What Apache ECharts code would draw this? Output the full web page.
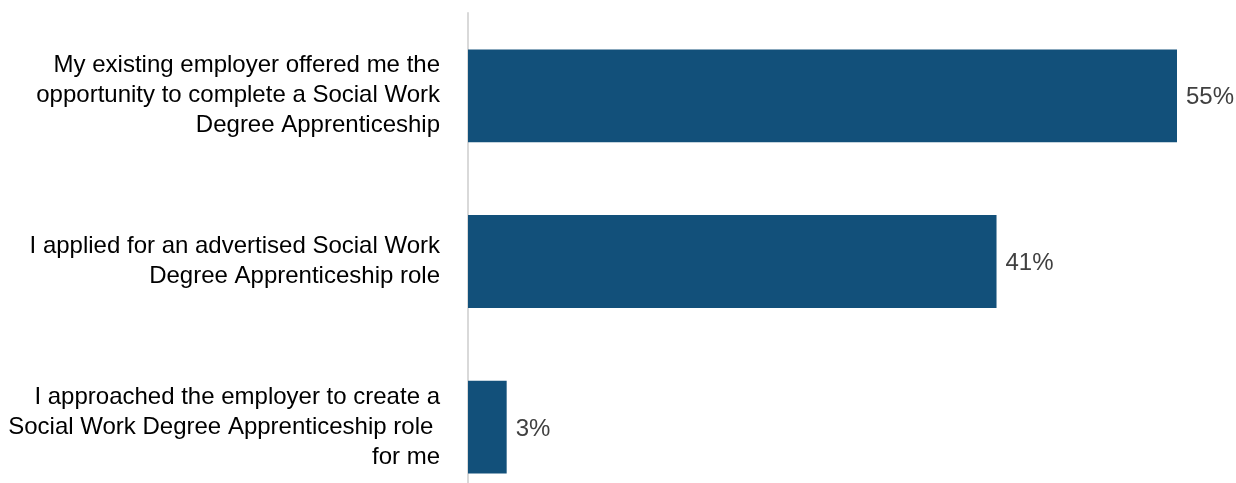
<!DOCTYPE html>
<html>
<head>
<meta charset="utf-8">
<script src="https://cdn.jsdelivr.net/npm/echarts@6/dist/echarts.min.js"></script>
<style>
  html, body { margin: 0; padding: 0; background: #ffffff; overflow: hidden; height: 483px; }
  /* plot area runs slightly below the visible page edge */
  #chart { width: 1236px; height: 510px; }
</style>
</head>
<body>
<div id="chart"></div>
<script>
// Ways respondents came to their Social Work Degree Apprenticeship
const categories = [
  'My existing employer offered me the\nopportunity to complete a Social Work\nDegree Apprenticeship',
  'I applied for an advertised Social Work\nDegree Apprenticeship role',
  'I approached the employer to create a\nSocial Work Degree Apprenticeship role \nfor me'
];
const shares = [55, 41, 3];

const chart = echarts.init(document.getElementById('chart'), null, { renderer: 'canvas' });
chart.setOption({
  animation: false,
  grid: { left: 468, width: 709, top: 13, bottom: 0, containLabel: false },
  xAxis: {
    type: 'value', min: 0, max: 55,
    show: false
  },
  yAxis: {
    type: 'category', inverse: true, data: categories,
    axisLine: { show: true, lineStyle: { color: '#d9d9d9', width: 2 } },
    axisTick: { show: false },
    axisLabel: {
      margin: 28, fontFamily: 'Liberation Sans, Arial, sans-serif', fontSize: 24,
      color: '#000000', lineHeight: 30, align: 'right', padding: [6, 0, 0, 0]
    }
  },
  series: [{
    type: 'bar', data: shares, barWidth: '56%',
    itemStyle: { color: '#12507a' },
    label: {
      show: true, position: 'right', distance: 9, offset: [0, 2],
      formatter: '{c}%', fontFamily: 'Liberation Sans, Arial, sans-serif',
      fontSize: 24, color: '#404040'
    }
  }]
});
</script>
</body>
</html>
